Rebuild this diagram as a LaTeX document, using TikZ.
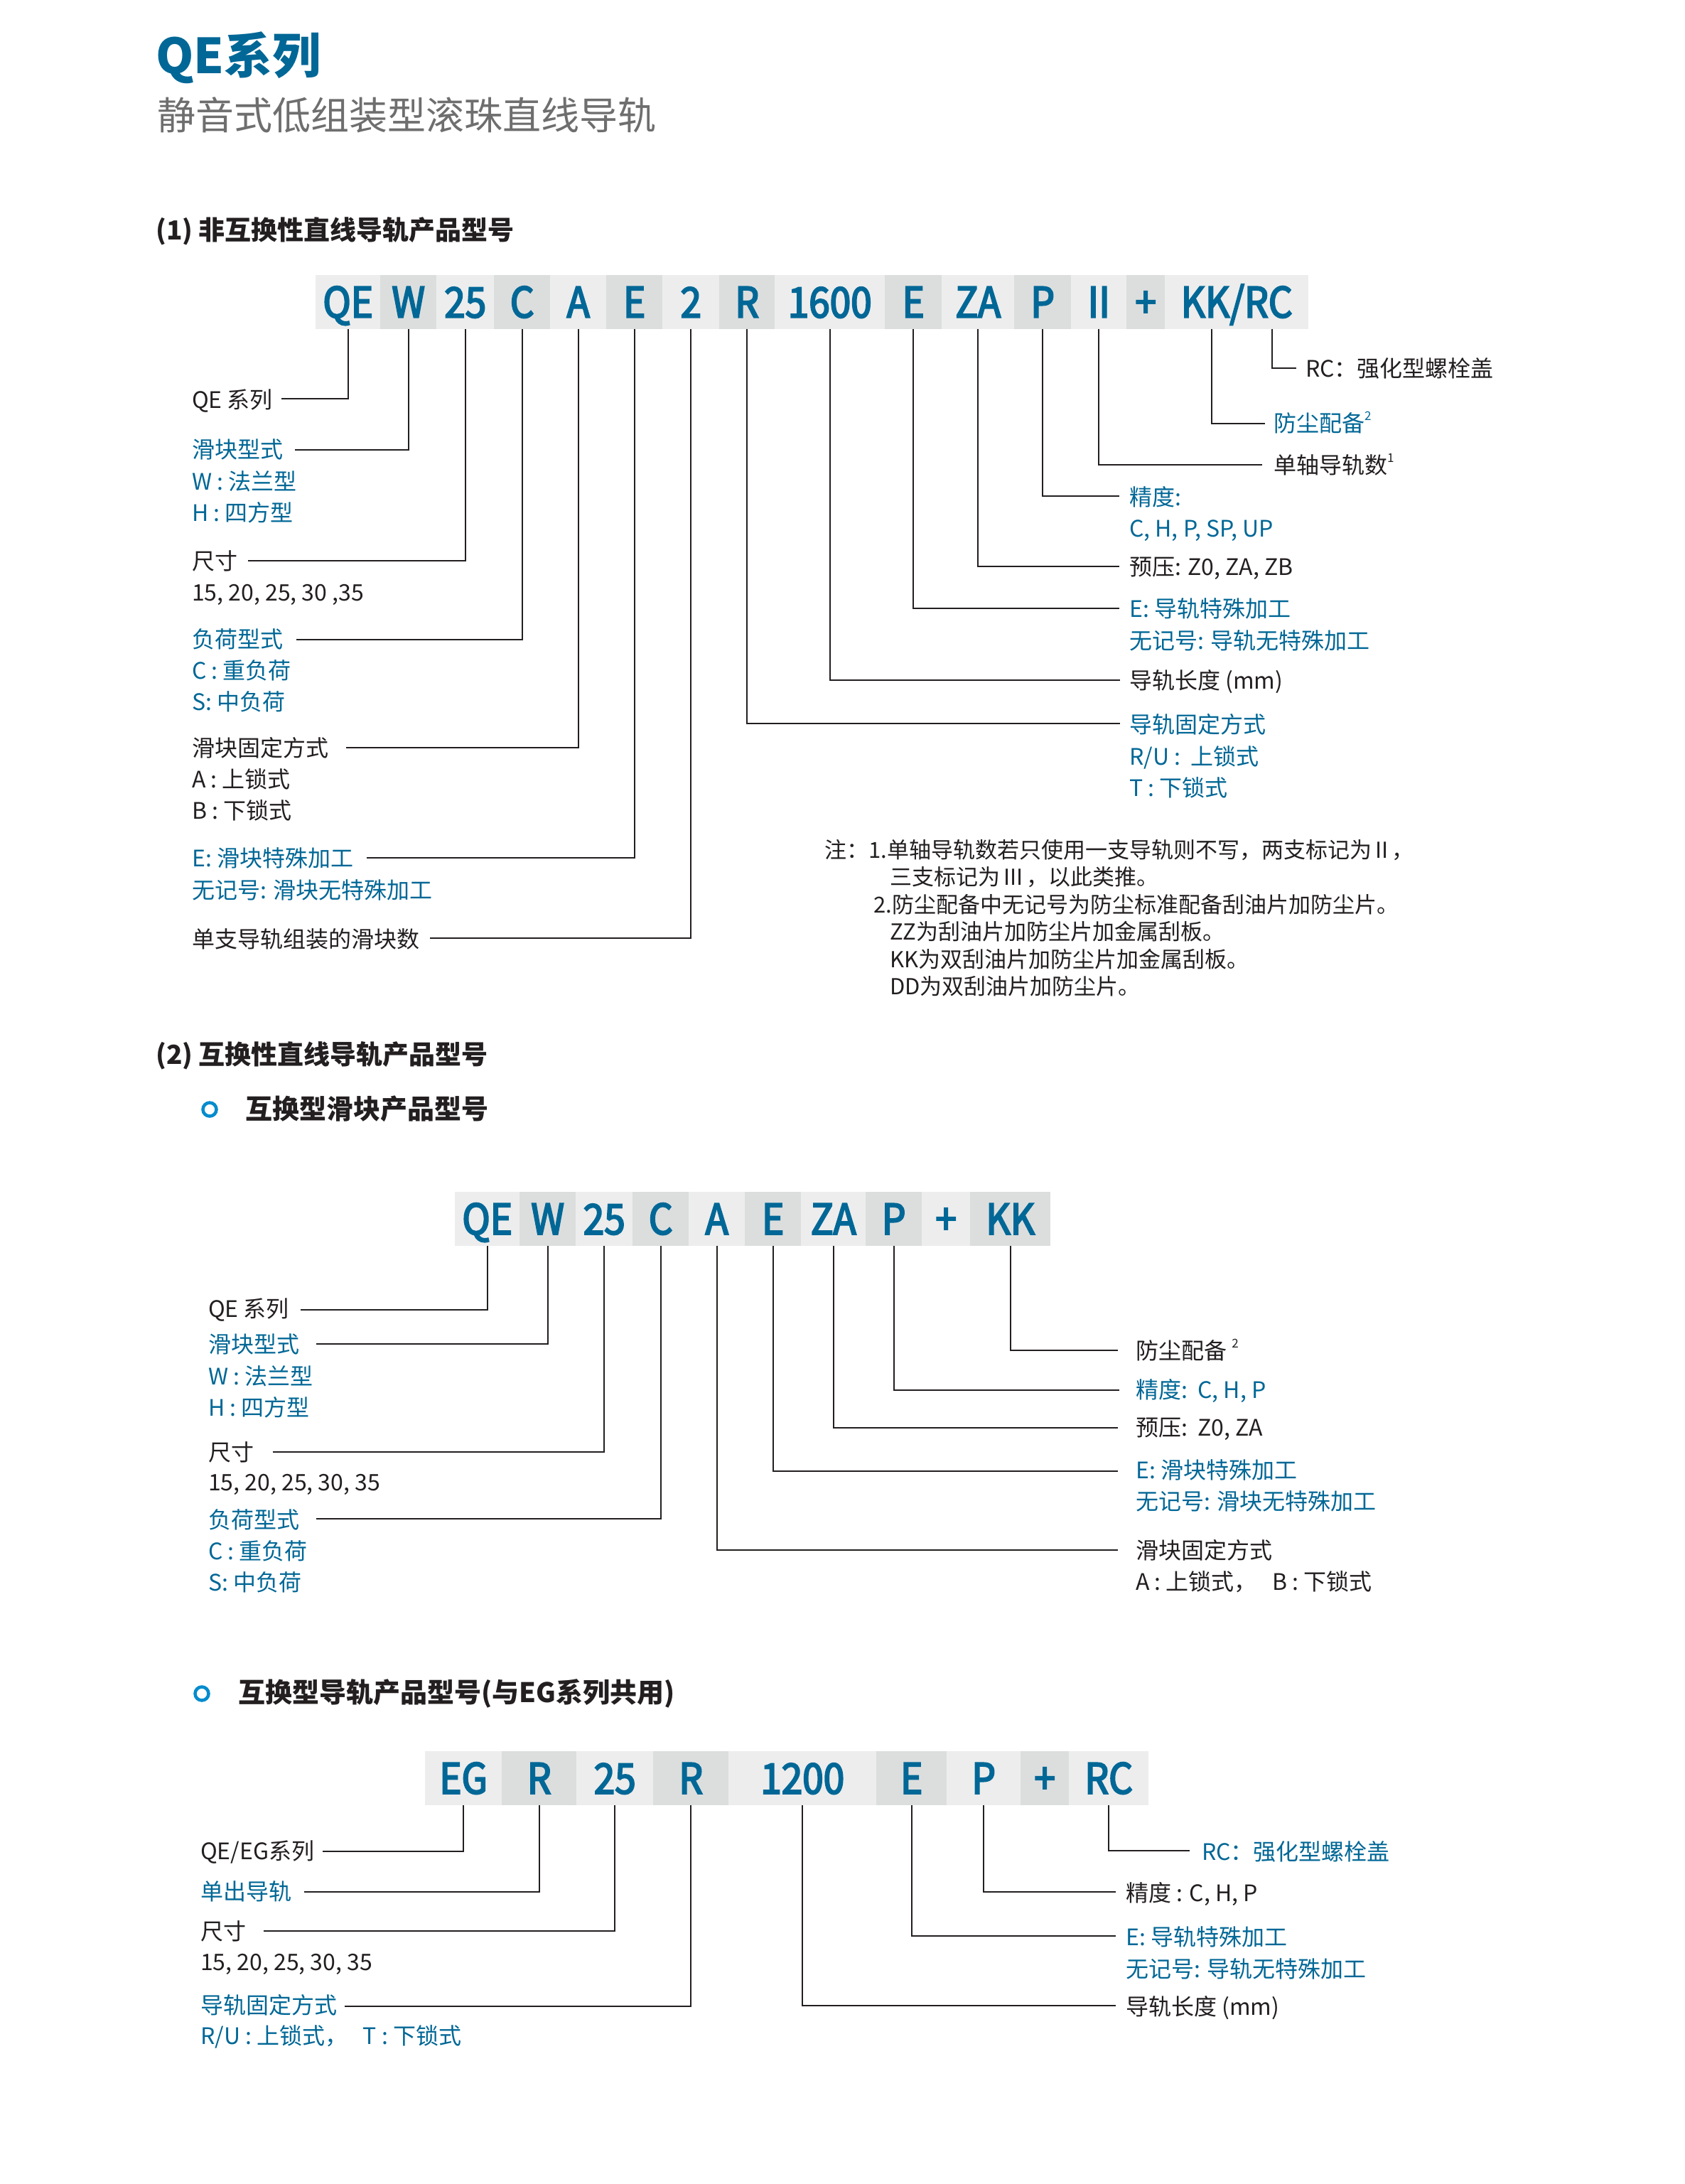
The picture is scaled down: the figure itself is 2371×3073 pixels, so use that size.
\documentclass[tikz,border=0pt]{standalone}
\usepackage{fontspec}
\setmainfont{Noto Sans CJK SC}
\newfontfamily\codefont[FakeStretch=0.9,FakeBold=3.5]{Noto Sans CJK SC}
\definecolor{qblue}{RGB}{0,103,150}
\definecolor{qtxt}{RGB}{35,31,32}
\definecolor{qgrey}{RGB}{110,110,110}
\definecolor{cellL}{RGB}{237,237,237}
\definecolor{cellD}{RGB}{220,222,222}
\definecolor{ringblue}{RGB}{0,140,205}
\newcommand{\supr}[1]{\raisebox{0.5em}{\fontsize{17}{17}\selectfont #1}}
\begin{document}
\begin{tikzpicture}[x=1pt,y=-1pt,
  conn/.style={draw=qtxt, line width=2pt},
  lbl/.style={anchor=base west, inner sep=0pt, text=qtxt, font=\fontsize{32}{38}\selectfont},
  blbl/.style={lbl, text=qblue},
  note/.style={anchor=base west, inner sep=0pt, text=qtxt, font=\fontsize{31}{36}\selectfont},
  head/.style={anchor=base west, inner sep=0pt, text=qtxt, font=\fontsize{37}{42}\selectfont\bfseries},
  cellbase/.style={anchor=north west, inner sep=0pt, minimum height=76pt, text height=43pt, text depth=0pt, text=qblue, font=\fontsize{59}{59}\codefont},
  lc/.style={cellbase, fill=cellL},
  dc/.style={cellbase, fill=cellD},
  ring/.style={circle, draw=ringblue, line width=4.5pt, minimum size=19pt, inner sep=0pt}
]
\useasboundingbox[fill=white] (0,0) rectangle (2371,3073);

% ---------- titles ----------
\node[anchor=base west, inner sep=0pt, text=qblue, font=\fontsize{68}{70}\selectfont\bfseries] (title) at (219,103) {QE系列};
\node[anchor=base west, inner sep=0pt, text=qgrey, font=\fontsize{54}{60}\selectfont] (subtitle) at (221,182) {静音式低组装型滚珠直线导轨};
\node[head] (h1) at (219,337) {(1) 非互换性直线导轨产品型号};

% ---------- bar 1 ----------
\node[lc, minimum width=91pt]  (a1) at (444,387) {QE};
\node[dc, minimum width=79pt]  (a2) at (535,387) {W};
\node[lc, minimum width=81pt]  (a3) at (614,387) {25};
\node[dc, minimum width=79pt]  (a4) at (695,387) {C};
\node[lc, minimum width=79pt]  (a5) at (774,387) {A};
\node[dc, minimum width=79pt]  (a6) at (853,387) {E};
\node[lc, minimum width=80pt]  (a7) at (932,387) {2};
\node[dc, minimum width=78pt]  (a8) at (1012,387) {R};
\node[lc, minimum width=155pt] (a9) at (1090,387) {1600};
\node[dc, minimum width=80pt]  (a10) at (1245,387) {E};
\node[lc, minimum width=102pt] (a11) at (1325,387) {ZA};
\node[dc, minimum width=80pt]  (a12) at (1427,387) {P};
\node[lc, minimum width=78pt]  (a13) at (1507,387) {II};
\node[dc, minimum width=54pt]  (a14) at (1585,387) {+};
\node[lc, minimum width=202pt] (a15) at (1639,387) {KK/RC};
\coordinate (a15k) at (1705,463);
\coordinate (a15r) at (1790,463);

% left labels bar 1
\node[lbl]  (l1)  at (270,574)  {QE 系列};
\node[blbl] (l2)  at (270,644)  {滑块型式};
\node[blbl] (l2b) at (270,689)  {W : 法兰型};
\node[blbl] (l2c) at (270,733)  {H : 四方型};
\node[lbl]  (l3)  at (270,801)  {尺寸};
\node[lbl]  (l3b) at (270,845)  {15, 20, 25, 30 ,35};
\node[blbl] (l4)  at (270,911)  {负荷型式};
\node[blbl] (l4b) at (270,955)  {C : 重负荷};
\node[blbl] (l4c) at (270,999)  {S: 中负荷};
\node[lbl]  (l5)  at (270,1064) {滑块固定方式};
\node[lbl]  (l5b) at (270,1108) {A : 上锁式};
\node[lbl]  (l5c) at (270,1152) {B : 下锁式};
\node[blbl] (l6)  at (270,1219) {E: 滑块特殊加工};
\node[blbl] (l6b) at (270,1264) {无记号: 滑块无特殊加工};
\node[lbl]  (l7)  at (270,1333) {单支导轨组装的滑块数};

\coordinate (e1) at (396,561);
\coordinate (e2) at (415,633);
\coordinate (e3) at (349,789);
\coordinate (e4) at (417,900);
\coordinate (e5) at (487,1052);
\coordinate (e6) at (516,1207);
\coordinate (e7) at (605,1320);
\draw[conn] (a1.south) |- (e1);
\draw[conn] (a2.south) |- (e2);
\draw[conn] (a3.south) |- (e3);
\draw[conn] (a4.south) |- (e4);
\draw[conn] (a5.south) |- (e5);
\draw[conn] (a6.south) |- (e6);
\draw[conn] (a7.south) |- (e7);

% right labels bar 1
\node[lbl]  (r1)  at (1837,530)  {RC：强化型螺栓盖};
\node[blbl] (r2)  at (1792,607)  {防尘配备\supr{2}};
\node[lbl]  (r3)  at (1792,666)  {单轴导轨数\supr{1}};
\node[blbl] (r4)  at (1589,711)  {精度:};
\node[blbl] (r4b) at (1589,755)  {C, H, P, SP, UP};
\node[lbl]  (r5)  at (1589,809)  {预压: Z0, ZA, ZB};
\node[blbl] (r6)  at (1589,868)  {E: 导轨特殊加工};
\node[blbl] (r6b) at (1589,913)  {无记号: 导轨无特殊加工};
\node[lbl]  (r7)  at (1589,969)  {导轨长度 (mm)};
\node[blbl] (r8)  at (1589,1031) {导轨固定方式};
\node[blbl] (r8b) at (1589,1076) {R/U :\ \ 上锁式};
\node[blbl] (r8c) at (1589,1120) {T : 下锁式};

\coordinate (f1) at (1824,518);
\coordinate (f2) at (1780,596);
\coordinate (f3) at (1776,654);
\coordinate (f4) at (1575,698);
\coordinate (f5) at (1575,797);
\coordinate (f6) at (1575,856);
\coordinate (f7) at (1576,957);
\coordinate (f8) at (1576,1018);
\draw[conn] (a15r) |- (f1);
\draw[conn] (a15k) |- (f2);
\draw[conn] (a13.south) |- (f3);
\draw[conn] (a12.south) |- (f4);
\draw[conn] (a11.south) |- (f5);
\draw[conn] (a10.south) |- (f6);
\draw[conn] (a9.south) |- (f7);
\draw[conn] (a8.south) |- (f8);

% notes
\node[note] (n1) at (1160,1207) {注：1.单轴导轨数若只使用一支导轨则不写，两支标记为\,II\,，};
\node[note] (n2) at (1252,1245) {三支标记为\,III\,，以此类推。};
\node[note] (n3) at (1229,1284) {2.防尘配备中无记号为防尘标准配备刮油片加防尘片。};
\node[note] (n4) at (1252,1322) {ZZ为刮油片加防尘片加金属刮板。};
\node[note] (n5) at (1252,1361) {KK为双刮油片加防尘片加金属刮板。};
\node[note] (n6) at (1252,1399) {DD为双刮油片加防尘片。};

% ---------- section 2 ----------
\node[head] (h2) at (219,1497) {(2) 互换性直线导轨产品型号};
\node[ring] (ring1) at (295,1561) {};
\node[head, font=\fontsize{38}{42}\selectfont\bfseries] (h2a) at (345,1574) {互换型滑块产品型号};

\node[lc, minimum width=91pt]  (b1) at (640,1677) {QE};
\node[dc, minimum width=79pt]  (b2) at (731,1677) {W};
\node[lc, minimum width=80pt]  (b3) at (810,1677) {25};
\node[dc, minimum width=79pt]  (b4) at (890,1677) {C};
\node[lc, minimum width=79pt]  (b5) at (969,1677) {A};
\node[dc, minimum width=79pt]  (b6) at (1048,1677) {E};
\node[lc, minimum width=91pt]  (b7) at (1127,1677) {ZA};
\node[dc, minimum width=79pt]  (b8) at (1218,1677) {P};
\node[lc, minimum width=68pt]  (b9) at (1297,1677) {+};
\node[dc, minimum width=113pt] (b10) at (1365,1677) {KK};

\node[lbl]  (s1)  at (293,1853) {QE 系列};
\node[blbl] (s2)  at (293,1903) {滑块型式};
\node[blbl] (s2b) at (293,1948) {W : 法兰型};
\node[blbl] (s2c) at (293,1992) {H : 四方型};
\node[lbl]  (s3)  at (293,2055) {尺寸};
\node[lbl]  (s3b) at (293,2097) {15, 20, 25, 30, 35};
\node[blbl] (s4)  at (293,2150) {负荷型式};
\node[blbl] (s4b) at (293,2194) {C : 重负荷};
\node[blbl] (s4c) at (293,2238) {S: 中负荷};

\coordinate (g1) at (423,1843);
\coordinate (g2) at (445,1891);
\coordinate (g3) at (384,2043);
\coordinate (g4) at (445,2137);
\draw[conn] (b1.south) |- (g1);
\draw[conn] (b2.south) |- (g2);
\draw[conn] (b3.south) |- (g3);
\draw[conn] (b4.south) |- (g4);

\node[lbl]  (t1)  at (1598,1912) {防尘配备\ \supr{2}};
\node[blbl] (t2)  at (1598,1967) {精度:\ \ C, H, P};
\node[lbl]  (t3)  at (1598,2020) {预压:\ \ Z0, ZA};
\node[blbl] (t4)  at (1598,2080) {E: 滑块特殊加工};
\node[blbl] (t4b) at (1598,2124) {无记号: 滑块无特殊加工};
\node[lbl]  (t5)  at (1598,2193) {滑块固定方式};
\node[lbl]  (t5b) at (1598,2237) {A : 上锁式，\ \ \ B : 下锁式};

\coordinate (u1) at (1573,1900);
\coordinate (u2) at (1575,1956);
\coordinate (u3) at (1573,2009);
\coordinate (u4) at (1573,2070);
\coordinate (u5) at (1573,2181);
\draw[conn] (b10.south) |- (u1);
\draw[conn] (b8.south) |- (u2);
\draw[conn] (b7.south) |- (u3);
\draw[conn] (b6.south) |- (u4);
\draw[conn] (b5.south) |- (u5);

% ---------- section 3 ----------
\node[ring] (ring2) at (284,2383) {};
\node[head, font=\fontsize{38}{42}\selectfont\bfseries] (h3a) at (335,2395) {互换型导轨产品型号(与EG系列共用)};

\node[lc, minimum width=108pt] (c1) at (598,2464) {EG};
\node[dc, minimum width=105pt] (c2) at (706,2464) {R};
\node[lc, minimum width=108pt] (c3) at (811,2464) {25};
\node[dc, minimum width=106pt] (c4) at (919,2464) {R};
\node[lc, minimum width=208pt] (c5) at (1025,2464) {1200};
\node[dc, minimum width=99pt]  (c6) at (1233,2464) {E};
\node[lc, minimum width=104pt] (c7) at (1332,2464) {P};
\node[dc, minimum width=68pt]  (c8) at (1436,2464) {+};
\node[lc, minimum width=112pt] (c9) at (1504,2464) {RC};

\node[lbl]  (v1)  at (282,2616) {QE/EG系列};
\node[blbl] (v2)  at (282,2673) {单出导轨};
\node[lbl]  (v3)  at (282,2729) {尺寸};
\node[lbl]  (v3b) at (282,2772) {15, 20, 25, 30, 35};
\node[blbl] (v4)  at (282,2833) {导轨固定方式};
\node[blbl] (v4b) at (282,2876) {R/U : 上锁式，\ \ \ T : 下锁式};

\coordinate (k1) at (454,2605);
\coordinate (k2) at (428,2662);
\coordinate (k3) at (371,2717);
\coordinate (k4) at (485,2823);
\draw[conn] (c1.south) |- (k1);
\draw[conn] (c2.south) |- (k2);
\draw[conn] (c3.south) |- (k3);
\draw[conn] (c4.south) |- (k4);

\node[blbl] (w1)  at (1691,2617) {RC：强化型螺栓盖};
\node[lbl]  (w2)  at (1584,2675) {精度 : C, H, P};
\node[blbl] (w3)  at (1584,2737) {E: 导轨特殊加工};
\node[blbl] (w3b) at (1584,2782) {无记号: 导轨无特殊加工};
\node[lbl]  (w4)  at (1584,2835) {导轨长度 (mm)};

\coordinate (m1) at (1674,2604);
\coordinate (m2) at (1570,2662);
\coordinate (m3) at (1570,2724);
\coordinate (m4) at (1570,2822);
\draw[conn] (c9.south) |- (m1);
\draw[conn] (c7.south) |- (m2);
\draw[conn] (c6.south) |- (m3);
\draw[conn] (c5.south) |- (m4);
\end{tikzpicture}
\end{document}
